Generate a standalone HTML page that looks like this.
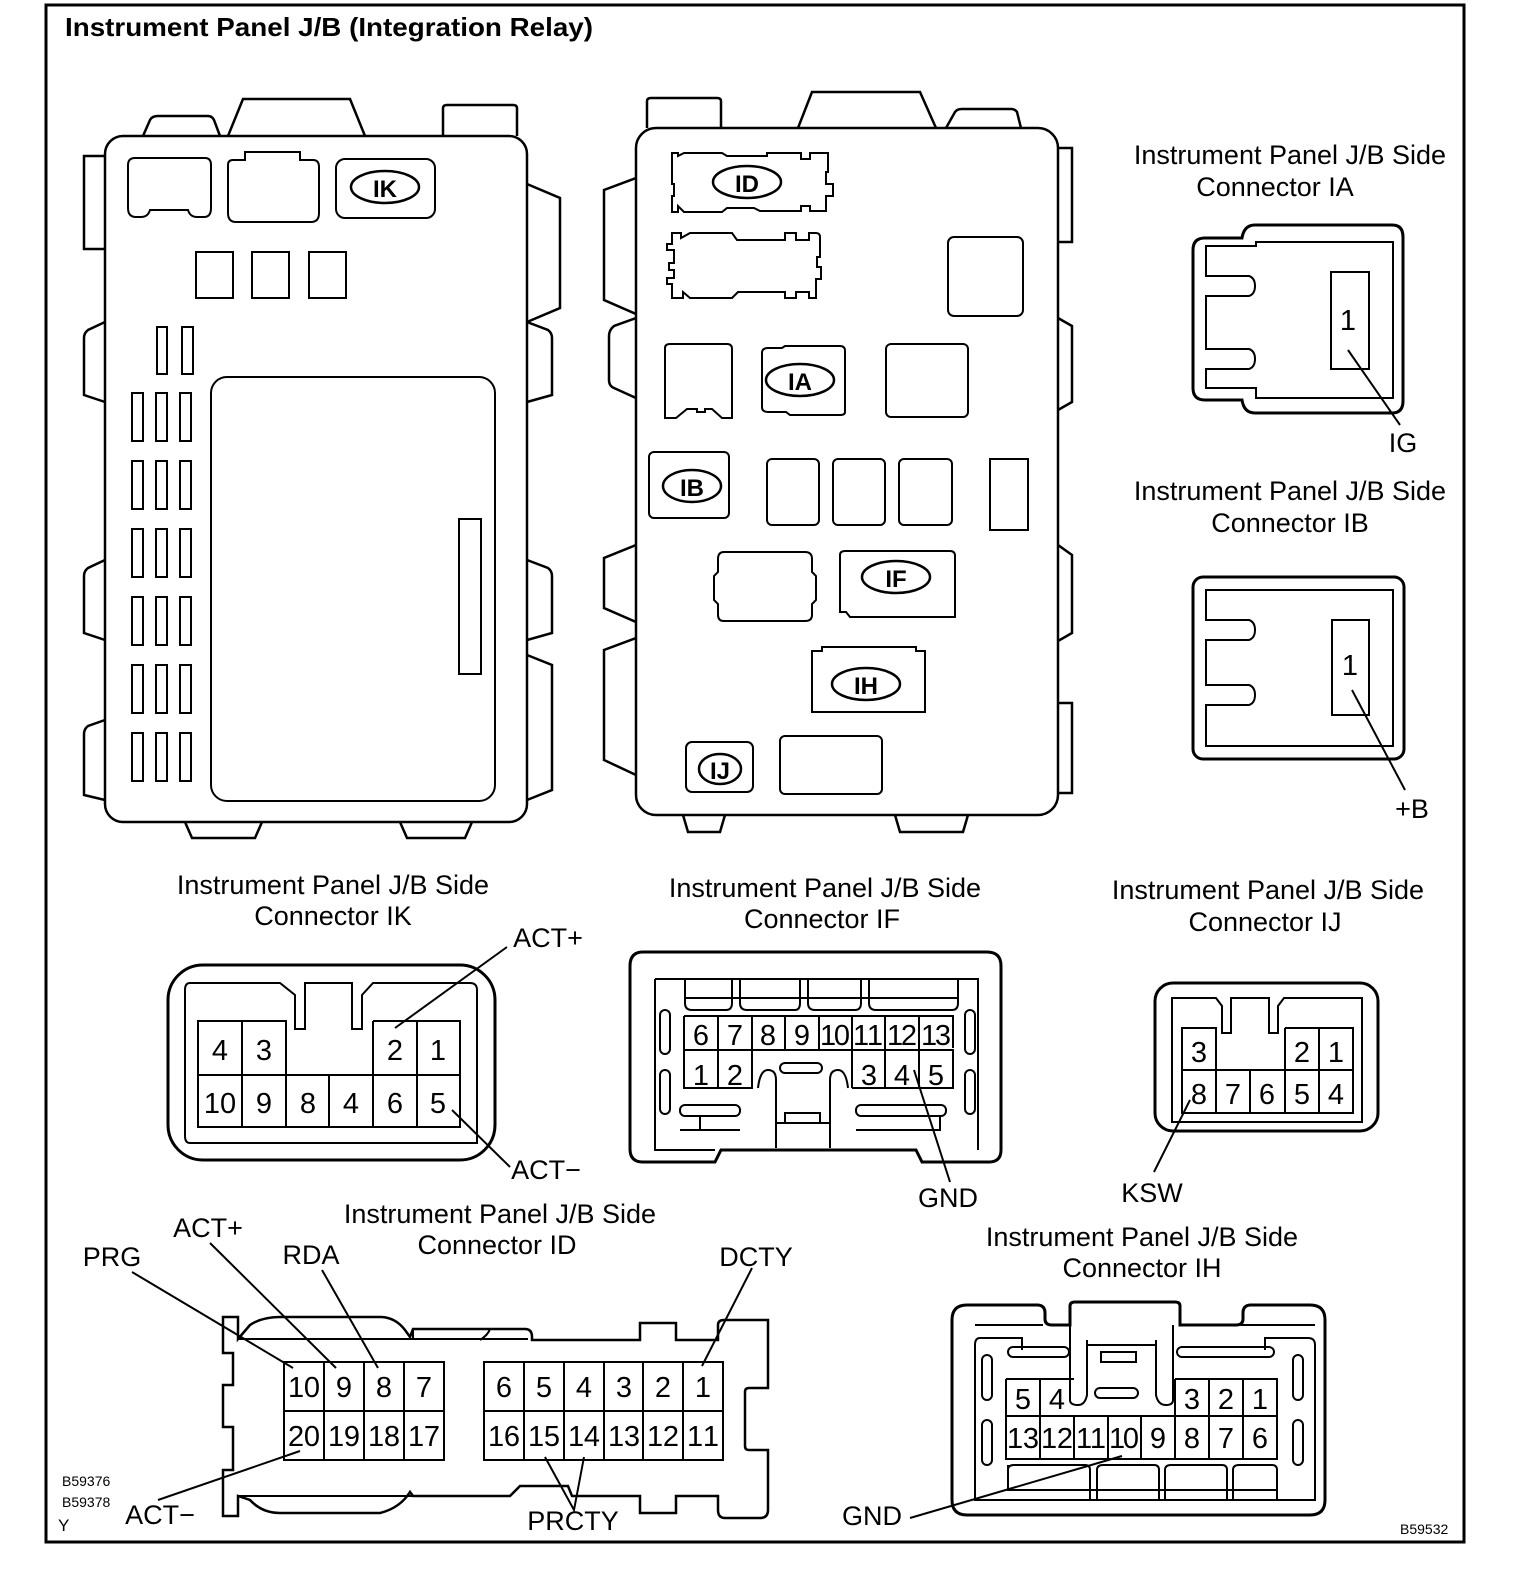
<!DOCTYPE html>
<html><head><meta charset="utf-8"><style>
html,body{margin:0;padding:0;background:#fff}
svg{display:block}
text{font-family:"Liberation Sans",sans-serif;fill:#000}
.l{font-size:27px;text-anchor:middle}
.p{font-size:29px;text-anchor:middle}
.e{font-size:24px;font-weight:bold;text-anchor:middle}
</style></head><body>
<svg width="1520" height="1580" viewBox="0 0 1520 1580" xmlns="http://www.w3.org/2000/svg" fill="none" stroke="#000" stroke-width="2">
<rect x="46" y="5" width="1418" height="1537" stroke-width="3"/>
<text x="65" y="36" style="font-size:26px;font-weight:bold" stroke="none" textLength="528" lengthAdjust="spacingAndGlyphs">Instrument Panel J/B (Integration Relay)</text>

<!-- LEFT J/B -->
<g stroke-width="2.5">
<path d="M143 136 L150 120 Q152 116 158 116 L208 116 Q212 116 214 120 L220 136"/>
<path d="M228 136 L243 99 L350 99 L365 136"/>
<path d="M443 136 L443 108 Q443 105 447 105 L513 105 Q517 105 517 108 L517 136"/>
<path d="M105 156 L84 156 L84 249 L105 249"/>
<path d="M105 322 L88 330 Q84 333 84 338 L84 395 L105 402"/>
<path d="M105 560 L88 568 Q84 571 84 576 L84 633 L105 640"/>
<path d="M105 720 L88 726 Q84 729 84 734 L84 795 L105 800"/>
<path d="M527 184 L560 198 L560 308 L527 322"/>
<path d="M527 322 L548 330 Q552 333 552 338 L552 395 L527 402"/>
<path d="M527 560 L548 568 Q552 571 552 576 L552 633 L527 640"/>
<path d="M527 655 L552 665 L552 790 L527 800"/>
<path d="M185 822 L192 838 L255 838 L262 822"/>
<path d="M400 822 L407 838 L465 838 L472 822"/>
<rect x="105" y="136" width="422" height="686" rx="18"/>
</g>
<path d="M128 165 Q128 158 135 158 L205 158 Q211 158 211 165 L211 208 Q211 217 204 217 L197 217 Q190 217 188 210 L188 210 L150 210 Q148 217 141 217 L136 217 Q128 217 128 208 Z"/>
<path d="M228 165 Q228 160 233 160 L245 160 L245 152 L300 152 L300 160 L313 160 Q319 160 319 167 L319 213 Q319 222 311 222 L236 222 Q228 222 228 213 Z"/>
<rect x="336" y="159" width="99" height="59" rx="9"/>
<ellipse cx="385" cy="187" rx="34" ry="16" stroke-width="2.5"/>
<text x="385" y="197" class="e" stroke="none">IK</text>
<rect x="196" y="252" width="37" height="46"/><rect x="252" y="252" width="37" height="46"/><rect x="309" y="252" width="37" height="46"/>
<rect x="157" y="327" width="10" height="47"/><rect x="182" y="327" width="11" height="47"/>
<g>
<rect x="132" y="393" width="11" height="48"/><rect x="156" y="393" width="11" height="48"/><rect x="180" y="393" width="11" height="48"/>
<rect x="132" y="461" width="11" height="48"/><rect x="156" y="461" width="11" height="48"/><rect x="180" y="461" width="11" height="48"/>
<rect x="132" y="529" width="11" height="48"/><rect x="156" y="529" width="11" height="48"/><rect x="180" y="529" width="11" height="48"/>
<rect x="132" y="597" width="11" height="48"/><rect x="156" y="597" width="11" height="48"/><rect x="180" y="597" width="11" height="48"/>
<rect x="132" y="665" width="11" height="48"/><rect x="156" y="665" width="11" height="48"/><rect x="180" y="665" width="11" height="48"/>
<rect x="132" y="733" width="11" height="48"/><rect x="156" y="733" width="11" height="48"/><rect x="180" y="733" width="11" height="48"/>
</g>
<rect x="211" y="377" width="284" height="424" rx="16"/>
<rect x="459" y="519" width="22" height="155"/>

<!-- MIDDLE J/B -->
<g stroke-width="2.5">
<path d="M647 128 L647 101 Q647 98 651 98 L717 98 Q721 98 721 101 L721 128"/>
<path d="M798 128 L812 92 L920 92 L936 128"/>
<path d="M946 128 L955 112 Q957 109 962 109 L1011 109 Q1015 109 1017 112 L1021 128"/>
<path d="M636 178 L604 190 L604 300 L636 314"/>
<path d="M636 318 L614 326 Q609 330 609 336 L609 380 Q609 386 614 388 L636 398"/>
<path d="M636 545 L604 558 L604 608 L636 622"/>
<path d="M636 638 L604 650 L604 760 L636 775"/>
<path d="M1058 148 L1072 148 L1072 242 L1058 242"/>
<path d="M1058 318 L1072 326 L1072 402 L1058 410"/>
<path d="M1058 545 L1072 555 L1072 633 L1058 641"/>
<path d="M1058 703 L1072 703 L1072 793 L1058 793"/>
<path d="M683 815 L688 832 L720 832 L725 815"/>
<path d="M895 815 L900 832 L963 832 L968 815"/>
<rect x="636" y="128" width="422" height="687" rx="20"/>
</g>
<path d="M672 153 L678 153 L678 156 L684 153 L722 153 L727 156 L767 156 L767 153 L801 153 L801 159 L810 159 L810 153 L828 153 L828 172 L826 172 L826 184 L833 184 L833 196 L826 196 L826 211 L810 211 L810 206 L801 206 L801 211 L760 211 L754 208 L727 208 L722 212 L684 212 L678 206 L678 212 L672 212 L672 196 L674 196 L674 184 L672 184 Z"/>
<ellipse cx="747" cy="182" rx="34" ry="16" stroke-width="2.5"/>
<text x="747" y="192" class="e" stroke="none">ID</text>
<path d="M672 233 L681 233 L681 238 L690 233 L732 233 L737 240 L785 240 L785 233 L796 233 L796 240 L809 240 L809 233 L816 233 Q820 233 820 237 L820 257 L817 257 L817 267 L821 267 L821 279 L816 279 L816 298 L809 298 L809 292 L796 292 L796 298 L785 298 L785 292 L738 292 L732 298 L690 298 L683 292 L683 298 L672 298 L672 284 L667 284 L667 278 L674 278 L674 270 L669 270 L669 263 L674 263 L674 250 L667 250 L667 244 L672 244 Z"/>
<rect x="948" y="237" width="75" height="79" rx="6"/>
<path d="M665 348 Q665 344 670 344 L727 344 Q732 344 732 349 L732 418 L722 418 L712 409 L705 409 L705 412 L697 412 L697 409 L687 409 L676 418 L665 418 Z"/>
<path d="M762 353 Q762 348 768 348 L782 348 L785 346 L840 346 Q845 346 845 351 L845 412 Q845 415 840 415 L790 415 L786 412 L768 412 Q762 412 762 407 Z"/>
<ellipse cx="800" cy="380" rx="34" ry="16" stroke-width="2.5"/>
<text x="800" y="390" class="e" stroke="none">IA</text>
<rect x="886" y="344" width="82" height="73" rx="5"/>
<rect x="649" y="452" width="80" height="66" rx="5"/>
<ellipse cx="692" cy="486" rx="29" ry="16" stroke-width="2.5"/>
<text x="692" y="496" class="e" stroke="none">IB</text>
<rect x="767" y="459" width="52" height="66" rx="5"/><rect x="833" y="459" width="52" height="66" rx="5"/><rect x="899" y="459" width="53" height="66" rx="5"/>
<rect x="990" y="459" width="38" height="71"/>
<path d="M724 552 L805 552 Q812 552 812 559 L812 572 L816 576 L816 600 L812 604 L812 615 Q812 621 805 621 L724 621 Q718 621 718 615 L718 604 L714 600 L714 576 L718 572 L718 559 Q718 552 724 552 Z"/>
<path d="M840 555 Q840 551 845 551 L950 551 Q955 551 955 556 L955 617 L850 617 L846 612 L840 612 Z"/>
<ellipse cx="896" cy="577" rx="34" ry="16" stroke-width="2.5"/>
<text x="896" y="587" class="e" stroke="none">IF</text>
<path d="M812 651 L822 651 L822 647 L916 647 L916 651 L925 651 L925 712 L812 712 Z"/>
<ellipse cx="866" cy="684" rx="34" ry="16" stroke-width="2.5"/>
<text x="866" y="694" class="e" stroke="none">IH</text>
<rect x="686" y="742" width="67" height="50" rx="6"/>
<ellipse cx="720" cy="769" rx="21" ry="15" stroke-width="2.5"/>
<text x="720" y="779" class="e" stroke="none">IJ</text>
<rect x="780" y="736" width="102" height="58" rx="5"/>

<!-- IA connector -->
<text x="1290" y="164" class="l" stroke="none">Instrument Panel J/B Side</text>
<text x="1275" y="196" class="l" stroke="none">Connector IA</text>
<path d="M1193 250 Q1193 238 1205 238 L1242 238 Q1244 225 1255 225 L1392 225 Q1403 225 1403 237 L1403 401 Q1403 413 1392 413 L1255 413 Q1244 413 1242 400 L1205 400 Q1193 400 1193 388 Z" stroke-width="3"/>
<path d="M1256 242 L1256 246 L1206 246 L1206 276 L1249 276 Q1255 278 1255 286 Q1255 294 1249 296 L1206 296 L1206 349 L1249 349 Q1255 351 1255 359 Q1255 367 1249 369 L1206 369 L1206 388 L1242 388 L1256 388 L1256 398 L1393 398 L1393 242 Z"/>
<rect x="1331" y="272" width="38" height="97"/>
<text x="1348" y="330" class="p" stroke="none">1</text>
<path d="M1348 350 L1400 425"/>
<text x="1403" y="452" class="l" stroke="none">IG</text>

<!-- IB connector -->
<text x="1290" y="500" class="l" stroke="none">Instrument Panel J/B Side</text>
<text x="1290" y="532" class="l" stroke="none">Connector IB</text>
<rect x="1193" y="577" width="211" height="182" rx="10" stroke-width="3"/>
<path d="M1206 590 L1393 590 L1393 746 L1206 746 L1206 705 L1249 705 Q1255 703 1255 695 Q1255 687 1249 685 L1206 685 L1206 640 L1249 640 Q1255 638 1255 630 Q1255 622 1249 620 L1206 620 Z"/>
<rect x="1332" y="620" width="37" height="95"/>
<text x="1350" y="675" class="p" stroke="none">1</text>
<path d="M1352 690 L1405 790"/>
<text x="1412" y="818" class="l" stroke="none">+B</text>

<!-- IK connector -->
<text x="333" y="894" class="l" stroke="none">Instrument Panel J/B Side</text>
<text x="333" y="925" class="l" stroke="none">Connector IK</text>
<rect x="168" y="965" width="327" height="195" rx="35" stroke-width="3"/>
<path d="M190 983 L280 983 L295 995 L295 1029 L305 1029 L305 983 L352 983 L352 1029 L362 1029 L362 995 L373 983 L470 983 Q477 983 477 990 L477 1143 L190 1143 Q185 1143 185 1136 L185 990 Q185 983 190 983 Z"/>
<path d="M198 1021 L286 1021 L286 1127 L198 1127 Z M242 1021 L242 1127 M198 1075 L460 1075 M373 1021 L460 1021 L460 1127 L198 1127 M373 1021 L373 1127 M417 1021 L417 1127 M329 1075 L329 1127"/>
<g class="p">
<text x="220" y="1060" class="p" stroke="none">4</text><text x="264" y="1060" class="p" stroke="none">3</text><text x="395" y="1060" class="p" stroke="none">2</text><text x="438" y="1060" class="p" stroke="none">1</text>
<text x="220" y="1113" class="p" stroke="none">10</text><text x="264" y="1113" class="p" stroke="none">9</text><text x="308" y="1113" class="p" stroke="none">8</text><text x="351" y="1113" class="p" stroke="none">4</text><text x="395" y="1113" class="p" stroke="none">6</text><text x="438" y="1113" class="p" stroke="none">5</text>
</g>
<path d="M395 1028 L507 947 M452 1110 L510 1167"/>
<text x="548" y="947" class="l" stroke="none">ACT+</text>
<text x="546" y="1179" class="l" stroke="none">ACT−</text>

<!-- IF connector -->
<text x="825" y="897" class="l" stroke="none">Instrument Panel J/B Side</text>
<text x="822" y="928" class="l" stroke="none">Connector IF</text>
<path d="M643 952 L987 952 Q1001 952 1001 966 L1001 1150 Q1001 1162 989 1162 L922 1162 L916 1150 L916 1150 L721 1150 L715 1162 L643 1162 Q630 1162 630 1149 L630 966 Q630 952 643 952 Z" stroke-width="3"/>
<path d="M655 979 L978 979 L978 1150 M655 979 L655 1150 L715 1150 M655 979 L655 1150"/>
<path d="M685 979 L685 1003 Q685 1010 692 1010 L726 1010 Q732 1010 732 1003 L732 979 M740 979 L740 1003 Q740 1010 747 1010 L795 1010 Q800 1010 800 1003 L800 979 M808 979 L808 1003 Q808 1010 815 1010 L855 1010 Q861 1010 861 1003 L861 979 M869 979 L869 1003 Q869 1010 876 1010 L952 1010 Q958 1010 958 1003 L958 979 M685 998 L958 998"/>
<rect x="660" y="1010" width="10" height="44" rx="5"/><rect x="965" y="1010" width="10" height="44" rx="5"/>
<rect x="660" y="1070" width="10" height="44" rx="5"/><rect x="965" y="1070" width="10" height="44" rx="5"/>
<path d="M684 1016 L953 1016 L953 1048 M684 1016 L684 1088 L752 1088 L752 1016 M684 1050 L752 1050 M718 1016 L718 1088 M785 1016 L785 1050 M819 1016 L819 1050 M852 1016 L852 1088 M885 1016 L885 1088 M919 1016 L919 1088 M852 1050 L953 1050 L953 1088 L852 1088 M752 1050 L953 1050"/>
<path d="M758 1088 Q760 1070 768 1070 Q776 1070 776 1080 L776 1148 M830 1148 L830 1080 Q830 1070 838 1070 Q846 1070 848 1088"/>
<rect x="780" y="1063" width="42" height="10" rx="5"/>
<rect x="680" y="1105" width="60" height="11" rx="5"/><rect x="856" y="1105" width="90" height="11" rx="5"/>
<path d="M777 1123 L830 1123 M785 1123 L785 1113 L820 1113 L820 1123 M700 1116 L700 1130 L740 1130 M856 1130 L940 1130 L940 1116 M680 1130 L700 1130"/>
<g>
<text x="701" y="1045" class="p" stroke="none">6</text><text x="735" y="1045" class="p" stroke="none">7</text><text x="768" y="1045" class="p" stroke="none">8</text><text x="802" y="1045" class="p" stroke="none">9</text>
<text x="835" y="1045" class="p" stroke="none" textLength="30">10</text><text x="868" y="1045" class="p" stroke="none" textLength="30">11</text><text x="902" y="1045" class="p" stroke="none" textLength="30">12</text><text x="936" y="1045" class="p" stroke="none" textLength="30">13</text>
<text x="701" y="1085" class="p" stroke="none">1</text><text x="735" y="1085" class="p" stroke="none">2</text>
<text x="869" y="1085" class="p" stroke="none">3</text><text x="902" y="1085" class="p" stroke="none">4</text><text x="936" y="1085" class="p" stroke="none">5</text>
</g>
<path d="M914 1070 L950 1182"/>
<text x="948" y="1207" class="l" stroke="none">GND</text>

<!-- IJ connector -->
<text x="1268" y="899" class="l" stroke="none">Instrument Panel J/B Side</text>
<text x="1265" y="931" class="l" stroke="none">Connector IJ</text>
<rect x="1155" y="983" width="223" height="148" rx="18" stroke-width="3"/>
<path d="M1172 998 L1216 998 L1222 1006 L1222 1033 L1231 1033 L1231 998 L1269 998 L1269 1033 L1278 1033 L1278 1006 L1284 998 L1362 998 L1362 1122 L1172 1122 Z"/>
<path d="M1182 1028 L1216 1028 L1216 1113 L1182 1113 Z M1285 1028 L1353 1028 L1353 1113 L1182 1113 M1182 1070 L1353 1070 M1250 1070 L1250 1113 M1285 1028 L1285 1113 M1319 1028 L1319 1113"/>
<text x="1199" y="1062" class="p" stroke="none">3</text><text x="1302" y="1062" class="p" stroke="none">2</text><text x="1336" y="1062" class="p" stroke="none">1</text>
<text x="1199" y="1104" class="p" stroke="none">8</text><text x="1233" y="1104" class="p" stroke="none">7</text><text x="1267" y="1104" class="p" stroke="none">6</text><text x="1302" y="1104" class="p" stroke="none">5</text><text x="1336" y="1104" class="p" stroke="none">4</text>
<path d="M1190 1100 L1154 1172"/>
<text x="1152" y="1202" class="l" stroke="none">KSW</text>

<!-- ID connector -->
<text x="500" y="1223" class="l" stroke="none">Instrument Panel J/B Side</text>
<text x="497" y="1254" class="l" stroke="none">Connector ID</text>
<path d="M223 1317 L238 1317 L238 1339 L250 1325 Q262 1317 280 1317 L380 1317 Q395 1317 405 1330 L410 1337 L413 1329 L525 1329 Q532 1329 532 1337 L532 1340 L640 1340 L640 1323 L676 1323 L676 1340 L718 1340 L718 1325 Q718 1320 724 1320 L768 1320 L768 1388 L749 1388 Q745 1388 745 1392 L745 1446 Q745 1450 749 1450 L768 1450 L768 1510 Q768 1518 760 1518 L725 1518 Q718 1518 718 1510 L718 1496 L676 1496 L676 1513 L640 1513 L640 1496 L580 1496 L572 1496 L568 1486 L520 1486 L510 1496 L413 1496 L410 1492 Q400 1508 380 1513 L280 1513 Q262 1513 250 1500 L238 1496 L238 1516 L223 1516 L223 1470 L233 1470 L233 1427 L223 1427 L223 1385 L233 1385 L233 1353 L223 1353 Z" stroke-width="2.5"/>
<path d="M238 1339 L410 1339 L528 1339 M413 1329 L413 1340 M238 1496 L413 1496 M490 1329 Q488 1335 480 1340"/>
<rect x="284" y="1362" width="160" height="98"/>
<path d="M324 1362 L324 1460 M364 1362 L364 1460 M404 1362 L404 1460 M284 1411 L444 1411"/>
<rect x="484" y="1362" width="239" height="98"/>
<path d="M524 1362 L524 1460 M564 1362 L564 1460 M604 1362 L604 1460 M643 1362 L643 1460 M683 1362 L683 1460 M484 1411 L723 1411"/>
<g>
<text x="304" y="1397" class="p" stroke="none" textLength="32">10</text><text x="344" y="1397" class="p" stroke="none">9</text><text x="384" y="1397" class="p" stroke="none">8</text><text x="424" y="1397" class="p" stroke="none">7</text>
<text x="304" y="1446" class="p" stroke="none" textLength="32">20</text><text x="344" y="1446" class="p" stroke="none" textLength="32">19</text><text x="384" y="1446" class="p" stroke="none" textLength="32">18</text><text x="424" y="1446" class="p" stroke="none" textLength="32">17</text>
<text x="504" y="1397" class="p" stroke="none">6</text><text x="544" y="1397" class="p" stroke="none">5</text><text x="584" y="1397" class="p" stroke="none">4</text><text x="624" y="1397" class="p" stroke="none">3</text><text x="663" y="1397" class="p" stroke="none">2</text><text x="703" y="1397" class="p" stroke="none">1</text>
<text x="504" y="1446" class="p" stroke="none" textLength="32">16</text><text x="544" y="1446" class="p" stroke="none" textLength="32">15</text><text x="584" y="1446" class="p" stroke="none" textLength="32">14</text><text x="624" y="1446" class="p" stroke="none" textLength="32">13</text><text x="663" y="1446" class="p" stroke="none" textLength="32">12</text><text x="703" y="1446" class="p" stroke="none" textLength="32">11</text>
</g>
<path d="M132 1272 L293 1368 M210 1243 L336 1368 M322 1270 L378 1368 M752 1268 L702 1366 M158 1500 L300 1451 M545 1457 L574 1510 L584 1457"/>
<text x="112" y="1266" class="l" stroke="none">PRG</text>
<text x="208" y="1237" class="l" stroke="none">ACT+</text>
<text x="311" y="1264" class="l" stroke="none">RDA</text>
<text x="756" y="1266" class="l" stroke="none">DCTY</text>
<text x="160" y="1524" class="l" stroke="none">ACT−</text>
<text x="573" y="1530" class="l" stroke="none">PRCTY</text>

<!-- IH connector -->
<text x="1142" y="1246" class="l" stroke="none">Instrument Panel J/B Side</text>
<text x="1142" y="1277" class="l" stroke="none">Connector IH</text>
<path d="M967 1305 L1037 1305 Q1045 1305 1045 1313 L1045 1319 Q1045 1325 1052 1325 L1070 1325 L1070 1306 Q1070 1302 1075 1302 L1175 1302 Q1180 1302 1180 1306 L1180 1325 L1236 1325 Q1243 1325 1243 1319 L1243 1313 Q1243 1305 1251 1305 L1310 1305 Q1325 1305 1325 1320 L1325 1500 Q1325 1515 1310 1515 L967 1515 Q952 1515 952 1500 L952 1320 Q952 1305 967 1305 Z" stroke-width="3"/>
<path d="M975 1325 L1043 1325 M1180 1325 L1315 1325 M980 1338 Q975 1338 975 1345 L975 1500 L1315 1500 L1315 1345 Q1315 1338 1308 1338 L1265 1338 L1265 1350 M980 1338 L1022 1338 L1022 1350"/>
<path d="M1070 1325 L1070 1400 Q1070 1405 1078 1405 Q1085 1405 1087 1395 L1087 1340 M1173 1325 L1173 1400 Q1173 1405 1166 1405 Q1158 1405 1156 1395 L1156 1340 M1087 1345 L1156 1345"/>
<rect x="1101" y="1352" width="35" height="10"/>
<rect x="1008" y="1347" width="61" height="10" rx="5"/><rect x="1177" y="1347" width="97" height="10" rx="5"/>
<rect x="1095" y="1388" width="43" height="10" rx="5"/>
<rect x="982" y="1355" width="10" height="45" rx="5"/><rect x="1293" y="1355" width="10" height="45" rx="5"/>
<rect x="982" y="1420" width="10" height="45" rx="5"/><rect x="1293" y="1420" width="10" height="45" rx="5"/>
<path d="M1006 1379 L1074 1379 M1006 1379 L1006 1459 L1277 1459 L1277 1379 L1175 1379 M1040 1379 L1040 1459 M1006 1416 L1277 1416 M1074 1416 L1074 1459 M1108 1416 L1108 1459 M1141 1416 L1141 1459 M1175 1379 L1175 1459 M1209 1379 L1209 1459 M1243 1379 L1243 1459"/>
<path d="M1008 1465 L1008 1490 L1277 1490 M1008 1470 Q1008 1465 1014 1465 L1085 1465 Q1090 1465 1090 1470 L1090 1500 M1097 1500 L1097 1470 Q1097 1465 1103 1465 L1154 1465 Q1159 1465 1159 1470 L1159 1500 M1165 1500 L1165 1470 Q1165 1465 1171 1465 L1222 1465 Q1227 1465 1227 1470 L1227 1500 M1233 1500 L1233 1470 Q1233 1465 1239 1465 L1272 1465 Q1277 1465 1277 1470 L1277 1500"/>
<g>
<text x="1023" y="1409" class="p" stroke="none">5</text><text x="1057" y="1409" class="p" stroke="none">4</text>
<text x="1192" y="1409" class="p" stroke="none">3</text><text x="1226" y="1409" class="p" stroke="none">2</text><text x="1260" y="1409" class="p" stroke="none">1</text>
<text x="1023" y="1448" class="p" stroke="none" textLength="32">13</text><text x="1057" y="1448" class="p" stroke="none" textLength="32">12</text><text x="1091" y="1448" class="p" stroke="none" textLength="30">11</text><text x="1124" y="1448" class="p" stroke="none" textLength="30">10</text>
<text x="1158" y="1448" class="p" stroke="none">9</text><text x="1192" y="1448" class="p" stroke="none">8</text><text x="1226" y="1448" class="p" stroke="none">7</text><text x="1260" y="1448" class="p" stroke="none">6</text>
</g>
<path d="M910 1518 L1122 1456"/>
<text x="872" y="1525" class="l" stroke="none">GND</text>

<text x="62" y="1486" style="font-size:14px" stroke="none">B59376</text>
<text x="62" y="1507" style="font-size:14px" stroke="none">B59378</text>
<text x="58" y="1531" style="font-size:17px" stroke="none">Y</text>
<text x="1400" y="1534" style="font-size:14px" stroke="none">B59532</text>
</svg>
</body></html>
